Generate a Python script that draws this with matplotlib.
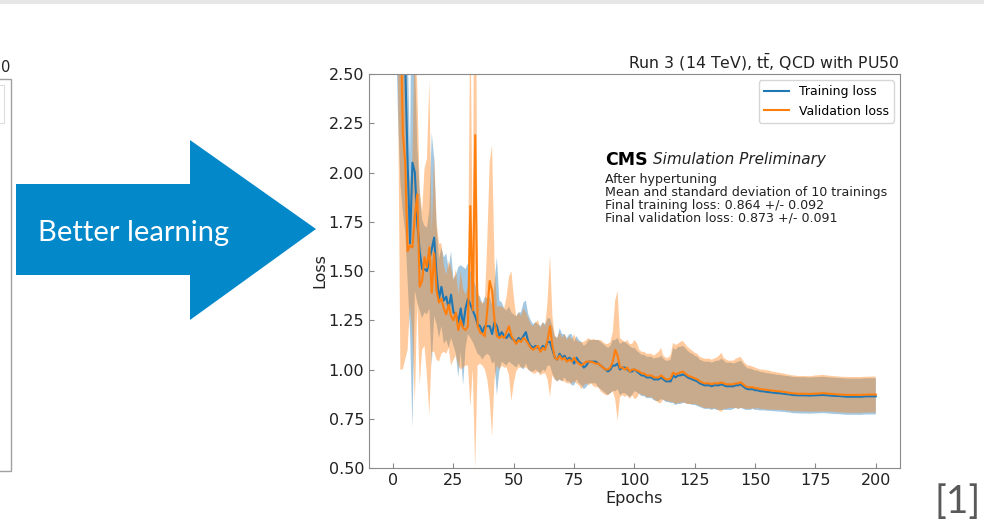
import numpy as np
import matplotlib.pyplot as plt
from matplotlib.patches import Rectangle

plt.rcParams["font.family"] = ["DejaVu Sans"]

# mean / std of training and validation loss per epoch
train_mean = [
    5.20, 4.10, 3.40, 2.95, 2.70, 2.55, 2.05, 1.64, 2.05, 2.00,
    1.74, 1.60, 1.51, 1.51, 1.50, 1.56, 1.61, 1.67, 1.48, 1.36,
    1.42, 1.35, 1.37, 1.31, 1.38, 1.29, 1.28, 1.24, 1.31, 1.22,
    1.31, 1.36, 1.33, 1.30, 1.27, 1.23, 1.22, 1.19, 1.22, 1.22,
    1.22, 1.18, 1.24, 1.22, 1.17, 1.19, 1.17, 1.16, 1.18, 1.16,
    1.15, 1.14, 1.16, 1.15, 1.17, 1.19, 1.14, 1.12, 1.11, 1.12,
    1.11, 1.10, 1.12, 1.11, 1.14, 1.14, 1.10, 1.06, 1.05, 1.08,
    1.06, 1.07, 1.05, 1.06, 1.05, 1.03, 1.06, 1.04, 1.03, 1.01,
    1.02, 1.04, 1.04, 1.04, 1.04, 1.03, 1.02, 1.01, 1.00, 0.99,
    1.00, 1.02, 1.02, 1.03, 1.00, 1.01, 1.01, 1.00, 0.99, 0.99,
    1.00, 0.99, 0.98, 0.97, 0.97, 0.96, 0.96, 0.96, 0.95, 0.95,
    0.95, 0.96, 0.95, 0.94, 0.94, 0.94, 0.97, 0.96, 0.97, 0.97,
    0.975, 0.97, 0.96, 0.955, 0.95, 0.945, 0.94, 0.93, 0.925, 0.92,
    0.92, 0.92, 0.915, 0.92, 0.92, 0.92, 0.925, 0.92, 0.915, 0.915,
    0.915, 0.915, 0.92, 0.92, 0.925, 0.915, 0.905, 0.90, 0.90, 0.90,
    0.895, 0.895, 0.89, 0.89, 0.888, 0.886, 0.885, 0.883, 0.882, 0.88,
    0.88, 0.878, 0.877, 0.875, 0.874, 0.872, 0.870, 0.870, 0.869, 0.869,
    0.869, 0.869, 0.868, 0.868, 0.869, 0.869, 0.870, 0.870, 0.871, 0.870,
    0.869, 0.868, 0.867, 0.866, 0.866, 0.865, 0.864, 0.863, 0.862, 0.862,
    0.862, 0.862, 0.862, 0.862, 0.862, 0.863, 0.864, 0.864, 0.864, 0.864,
    0.864,
]
train_std = [
    1.50, 1.30, 1.10, 1.00, 0.90, 0.85, 0.60, 0.45, 1.35, 0.60,
    0.40, 0.30, 0.25, 0.22, 0.22, 0.25, 0.59, 0.40, 0.25, 0.20,
    0.20, 0.22, 0.22, 0.20, 0.22, 0.17, 0.20, 0.28, 0.22, 0.30,
    0.20, 0.18, 0.17, 0.16, 0.16, 0.15, 0.15, 0.14, 0.15, 0.14,
    0.15, 0.15, 0.20, 0.35, 0.18, 0.15, 0.14, 0.14, 0.14, 0.13,
    0.13, 0.13, 0.13, 0.14, 0.17, 0.16, 0.14, 0.13, 0.12, 0.12,
    0.12, 0.12, 0.12, 0.12, 0.12, 0.12, 0.12, 0.11, 0.11, 0.13,
    0.12, 0.11, 0.11, 0.12, 0.13, 0.11, 0.11, 0.11, 0.11, 0.11,
    0.11, 0.11, 0.11, 0.11, 0.11, 0.12, 0.12, 0.12, 0.12, 0.12,
    0.12, 0.13, 0.13, 0.13, 0.13, 0.13, 0.13, 0.13, 0.13, 0.12,
    0.11, 0.105, 0.105, 0.105, 0.105, 0.105, 0.105, 0.105, 0.105, 0.11,
    0.11, 0.11, 0.105, 0.105, 0.105, 0.11, 0.14, 0.14, 0.145, 0.145,
    0.145, 0.14, 0.135, 0.13, 0.13, 0.125, 0.125, 0.12, 0.12, 0.12,
    0.12, 0.12, 0.12, 0.12, 0.125, 0.125, 0.13, 0.125, 0.12, 0.12,
    0.12, 0.115, 0.115, 0.12, 0.12, 0.115, 0.11, 0.105, 0.105, 0.10,
    0.10, 0.10, 0.098, 0.097, 0.096, 0.095, 0.095, 0.094, 0.094, 0.093,
    0.093, 0.093, 0.092, 0.092, 0.092, 0.092, 0.092, 0.092, 0.092, 0.092,
    0.092, 0.092, 0.092, 0.092, 0.092, 0.092, 0.092, 0.092, 0.092, 0.092,
    0.092, 0.092, 0.092, 0.092, 0.092, 0.092, 0.092, 0.092, 0.092, 0.092,
    0.092, 0.092, 0.092, 0.092, 0.092, 0.092, 0.092, 0.092, 0.092, 0.092,
    0.092,
]
val_mean = [
    5.50, 4.20, 3.30, 2.90, 2.20, 2.05, 1.60, 1.63, 1.62, 1.78,
    1.89, 1.42, 1.45, 1.57, 1.52, 1.62, 1.39, 1.59, 1.40, 1.34,
    1.36, 1.31, 1.28, 1.33, 1.27, 1.25, 1.29, 1.20, 1.25, 1.21,
    1.20, 1.22, 1.83, 1.30, 2.19, 1.22, 1.19, 1.18, 1.17, 1.30,
    1.45, 1.40, 1.25, 1.17, 1.16, 1.17, 1.16, 1.19, 1.22, 1.17,
    1.15, 1.13, 1.15, 1.14, 1.16, 1.15, 1.13, 1.11, 1.10, 1.11,
    1.12, 1.09, 1.11, 1.10, 1.15, 1.22, 1.12, 1.06, 1.05, 1.07,
    1.05, 1.06, 1.04, 1.05, 1.04, 1.06, 1.04, 1.03, 1.02, 1.03,
    1.04, 1.04, 1.04, 1.035, 1.03, 1.03, 1.02, 1.01, 1.00, 1.00,
    1.01, 1.04, 1.10, 1.07, 1.01, 1.01, 1.00, 1.01, 0.99, 1.00,
    1.00, 0.995, 0.99, 0.98, 0.98, 0.97, 0.97, 0.97, 0.96, 0.96,
    0.96, 0.97, 0.96, 0.95, 0.95, 0.955, 0.985, 0.975, 0.98, 0.985,
    0.99, 0.98, 0.97, 0.965, 0.96, 0.955, 0.95, 0.94, 0.935, 0.93,
    0.93, 0.93, 0.925, 0.93, 0.93, 0.93, 0.935, 0.93, 0.925, 0.925,
    0.925, 0.925, 0.93, 0.93, 0.935, 0.925, 0.915, 0.91, 0.91, 0.91,
    0.905, 0.905, 0.90, 0.90, 0.898, 0.896, 0.895, 0.893, 0.892, 0.89,
    0.89, 0.888, 0.886, 0.884, 0.882, 0.88, 0.879, 0.878, 0.877, 0.877,
    0.877, 0.877, 0.876, 0.876, 0.877, 0.878, 0.878, 0.879, 0.880, 0.879,
    0.878, 0.877, 0.876, 0.875, 0.874, 0.873, 0.872, 0.872, 0.871, 0.871,
    0.871, 0.871, 0.871, 0.871, 0.871, 0.872, 0.872, 0.873, 0.873, 0.873,
    0.873,
]
val_std = [
    1.00, 1.00, 0.80, 1.90, 1.20, 1.00, 0.50, 0.30, 0.45, 0.95,
    0.55, 0.50, 0.35, 0.45, 0.55, 0.85, 0.30, 0.50, 0.35, 0.30,
    0.28, 0.22, 0.20, 0.22, 0.25, 0.20, 0.22, 0.18, 0.25, 0.20,
    0.18, 0.20, 1.02, 0.30, 1.70, 0.20, 0.16, 0.16, 0.17, 0.35,
    0.60, 0.74, 0.30, 0.15, 0.16, 0.15, 0.15, 0.18, 0.25, 0.33,
    0.22, 0.14, 0.14, 0.13, 0.15, 0.14, 0.13, 0.12, 0.12, 0.13,
    0.13, 0.12, 0.13, 0.12, 0.20, 0.36, 0.15, 0.11, 0.11, 0.12,
    0.11, 0.12, 0.11, 0.12, 0.11, 0.12, 0.11, 0.11, 0.12, 0.11,
    0.11, 0.12, 0.11, 0.12, 0.12, 0.12, 0.13, 0.13, 0.13, 0.13,
    0.13, 0.15, 0.25, 0.33, 0.15, 0.14, 0.14, 0.14, 0.14, 0.13,
    0.15, 0.14, 0.11, 0.11, 0.11, 0.11, 0.11, 0.11, 0.11, 0.12,
    0.13, 0.14, 0.11, 0.11, 0.11, 0.12, 0.15, 0.15, 0.15, 0.155,
    0.155, 0.15, 0.145, 0.14, 0.135, 0.13, 0.13, 0.125, 0.125, 0.125,
    0.125, 0.125, 0.125, 0.125, 0.13, 0.14, 0.15, 0.13, 0.125, 0.12,
    0.12, 0.12, 0.125, 0.13, 0.13, 0.12, 0.115, 0.11, 0.11, 0.105,
    0.105, 0.10, 0.10, 0.10, 0.10, 0.10, 0.098, 0.097, 0.096, 0.095,
    0.094, 0.093, 0.093, 0.092, 0.092, 0.091, 0.091, 0.09, 0.09, 0.09,
    0.09, 0.09, 0.09, 0.09, 0.091, 0.092, 0.092, 0.093, 0.093, 0.092,
    0.092, 0.091, 0.091, 0.091, 0.091, 0.091, 0.091, 0.091, 0.091, 0.091,
    0.091, 0.091, 0.091, 0.091, 0.091, 0.091, 0.091, 0.091, 0.091, 0.091,
    0.091,
]

title = r"Run 3 (14 TeV), t$\bar{\mathrm{t}}$, QCD with PU50"
info_lines = [
    "After hypertuning",
    "Mean and standard deviation of 10 trainings",
    "Final training loss: 0.864 +/- 0.092",
    "Final validation loss: 0.873 +/- 0.091",
]

epochs = np.arange(len(train_mean))
train_mean = np.array(train_mean)
train_std = np.array(train_std)
val_mean = np.array(val_mean)
val_std = np.array(val_std)

fig = plt.figure(figsize=(9.84, 5.28), dpi=100)

# slide background: grey strip, cut-off left chart, arrow, reference
bg = fig.add_axes([0, 0, 1, 1], zorder=0)
bg.set_xlim(0, 984)
bg.set_ylim(528, 0)
bg.axis("off")
bg.add_patch(Rectangle((0, 0), 984, 4, color="#e6e6e6", lw=0))
bg.add_patch(Rectangle((-10, 79), 21, 392, fill=False, ec="#a0a0a0", lw=1))
bg.add_patch(Rectangle((-10, 85), 14, 38, fill=False, ec="#dedede", lw=0.8))
bg.text(1, 67, "0", ha="left", va="center", fontsize=10.5, color="#222222")
arrow_x = [16, 190, 190, 316, 190, 190, 16]
arrow_y = [184, 184, 140, 229, 320, 275, 275]
bg.fill(arrow_x, arrow_y, color="#0388CA", lw=0)
bg.text(38, 241, "Better learning", color="white", fontsize=21,
        family="Lato", va="baseline", ha="left")
bg.text(934, 502, "[1]", color="#595959", fontsize=28, family="Lato",
        ha="left", va="center")

ax = fig.add_axes([0.375, 0.1136, 0.5396, 0.7462], zorder=1)
ax.fill_between(epochs, train_mean - train_std, train_mean + train_std,
                color="tab:blue", alpha=0.4, lw=0)
ax.fill_between(epochs, val_mean - val_std, val_mean + val_std,
                color="tab:orange", alpha=0.4, lw=0)
ax.plot(epochs, train_mean, color="tab:blue", lw=1.5, label="Training loss")
ax.plot(epochs, val_mean, color="tab:orange", lw=1.5, label="Validation loss")

ax.set_xlim(-10, 210)
ax.set_ylim(0.5, 2.5)
ax.set_xticks([0, 25, 50, 75, 100, 125, 150, 175, 200])
ax.set_yticks([0.5, 0.75, 1.0, 1.25, 1.5, 1.75, 2.0, 2.25, 2.5])
ax.set_yticklabels(["0.50", "0.75", "1.00", "1.25", "1.50", "1.75", "2.00", "2.25", "2.50"])
ax.tick_params(direction="in", length=3.5, labelsize=11.5, colors="#222222", color="#888888")
for s in ax.spines.values():
    s.set_color("#8a8a8a")
ax.set_xlabel("Epochs", fontsize=11.5, color="#222222", labelpad=2.5)
ax.set_ylabel("Loss", fontsize=11.5, color="#222222", labelpad=1)
ax.set_title(title, loc="right", fontsize=11.3, color="#222222", pad=4)
ax.legend(loc="upper right", fontsize=9)

ax.text(0.444, 0.782, "CMS", transform=ax.transAxes, fontsize=12.5,
        fontweight="bold", va="center", ha="left")
ax.text(0.534, 0.782, "Simulation Preliminary", transform=ax.transAxes,
        fontsize=11, style="italic", va="center", ha="left", color="#222222")
ax.text(0.444, 0.749, "\n".join(info_lines), transform=ax.transAxes,
        fontsize=9.1, va="top", ha="left", linespacing=1.0, color="#222222")

fig.savefig("out.png", dpi=100)
